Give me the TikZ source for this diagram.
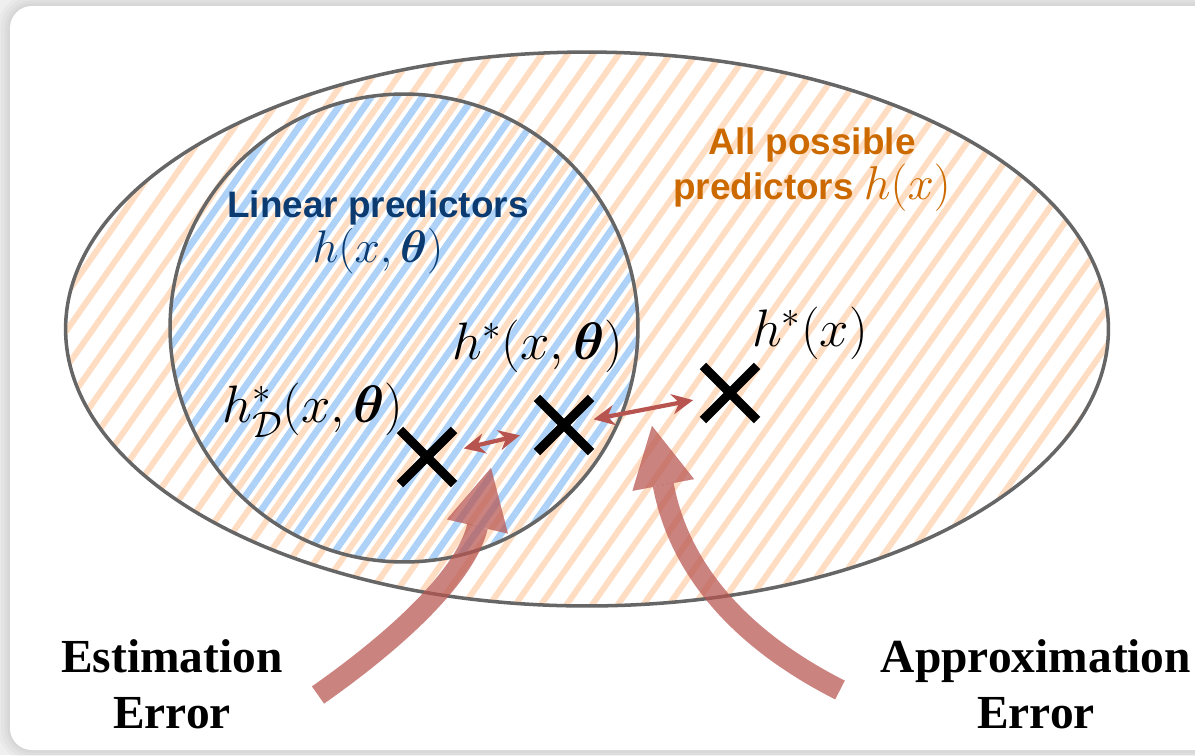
\RequirePackage{fix-cm}
\documentclass[tikz,border=0pt]{standalone}
\usepackage{amsmath}
\usepackage{amssymb}
\usepackage{fontspec}
\newfontfamily\headsans{Liberation Sans}
\newfontfamily\errserif{Liberation Serif}
\usepackage{xcolor}
\usepackage{tikz}
\usetikzlibrary{positioning, arrows.meta, shapes.misc, shapes.geometric, patterns.meta}

\definecolor{pagegray}{HTML}{EFEFEF}
\definecolor{outlinegray}{HTML}{666666}
\definecolor{hatchorange}{HTML}{FFDDC2}
\definecolor{hatchblue}{HTML}{AED2F7}
\definecolor{linblue}{HTML}{0B3B70}
\definecolor{allorange}{HTML}{CC6A00}
\definecolor{errred}{HTML}{B85450}

\begin{document}
\begin{tikzpicture}[
    x=0.02cm, y=-0.02cm,
    every node/.style={inner sep=0pt},
    setline/.style={draw=outlinegray, line width=2pt},
    orangehatch/.style={pattern={Lines[angle=55, distance=0.42cm, line width=3.4pt]}, pattern color=hatchorange},
    bluehatch/.style={pattern={Lines[angle=55, distance=0.42cm, line width=3.8pt, xshift=-0.17cm, yshift=0.12cm]}, pattern color=hatchblue},
    crossmark/.style={cross out, draw=black, line width=5.2pt, minimum size=0.9cm},
    gaparrow/.style={draw=errred, line width=2.4pt, {Stealth[length=0.42cm, width=0.4cm]}-{Stealth[length=0.42cm, width=0.4cm]}},
    errarrow/.style={draw=errred, opacity=0.72, line width=12pt, -{Triangle[length=1.2cm, width=1.25cm, line width=0.1pt]}},
    headlabel/.style={font=\fontsize{21}{25.6}\selectfont\headsans\bfseries, align=center},
    mathlabel/.style={font=\fontsize{30}{34}\selectfont},
    errlabel/.style={font=\fontsize{27}{31.9}\selectfont\errserif\bfseries, align=center}
]
% page and card
\clip (0,0) rectangle (1195,755);
\fill[pagegray] (0,0) rectangle (1195,755);
\foreach \w in {14,10,6,3}
    \draw[black, opacity=0.025, line width=\w pt, rounded corners=0.44cm] (10,6) rectangle (1260,750);
\fill[white, rounded corners=0.44cm] (10,6) rectangle (1260,750);

% the two sets
\node[ellipse, setline, orangehatch, minimum width=20.86cm, minimum height=11.08cm] (allset) at (587,329) {};
\node[circle, setline, bluehatch, minimum size=9.36cm] (linset) at (404,328) {};

% set labels
\node[headlabel, text=linblue] (lintitle) at (378,208) {Linear predictors};
\node[below=0.04cm of lintitle, font=\fontsize{26}{30}\selectfont, text=linblue] (linmath) {$h(x,\boldsymbol{\theta})$};
\node[headlabel, text=allorange] (alltitle) at (812,170) {All possible\\predictors {\fontsize{27}{25.6}\selectfont$h(x)$}};

% predictors
\node[crossmark] (xd) at (427,457) {};
\node[crossmark] (xl) at (564,425) {};
\node[crossmark] (xa) at (730,393) {};
\node[mathlabel] (hstard) at (313,410) {$h^{*}_{\mathcal{D}}(x,\boldsymbol{\theta})$};
\node[mathlabel] (hstarlin) at (538,346) {$h^{*}(x,\boldsymbol{\theta})$};
\node[mathlabel] (hstarall) at (810,333) {$h^{*}(x)$};

\draw[gaparrow, shorten <=0.2cm, shorten >=0.35cm] (xd) -- (xl);
\draw[gaparrow, shorten <=0.05cm, shorten >=0.2cm] (xl) -- (xa);

% error labels and arrows
\node[errlabel] (estlabel) at (172,684) {Estimation\\Error};
\node[errlabel] (applabel) at (1036,684) {Approximation\\Error};
\coordinate (eststart) at (318,695);
\coordinate (esttip) at (491,468);
\coordinate (appstart) at (840,690);
\coordinate (apptip) at (652,426);
\draw[errarrow] (eststart) .. controls (416,626) and (468,567) .. (esttip);
\draw[errarrow] (appstart) .. controls (706,622) and (673,536) .. (apptip);
\end{tikzpicture}
\end{document}
